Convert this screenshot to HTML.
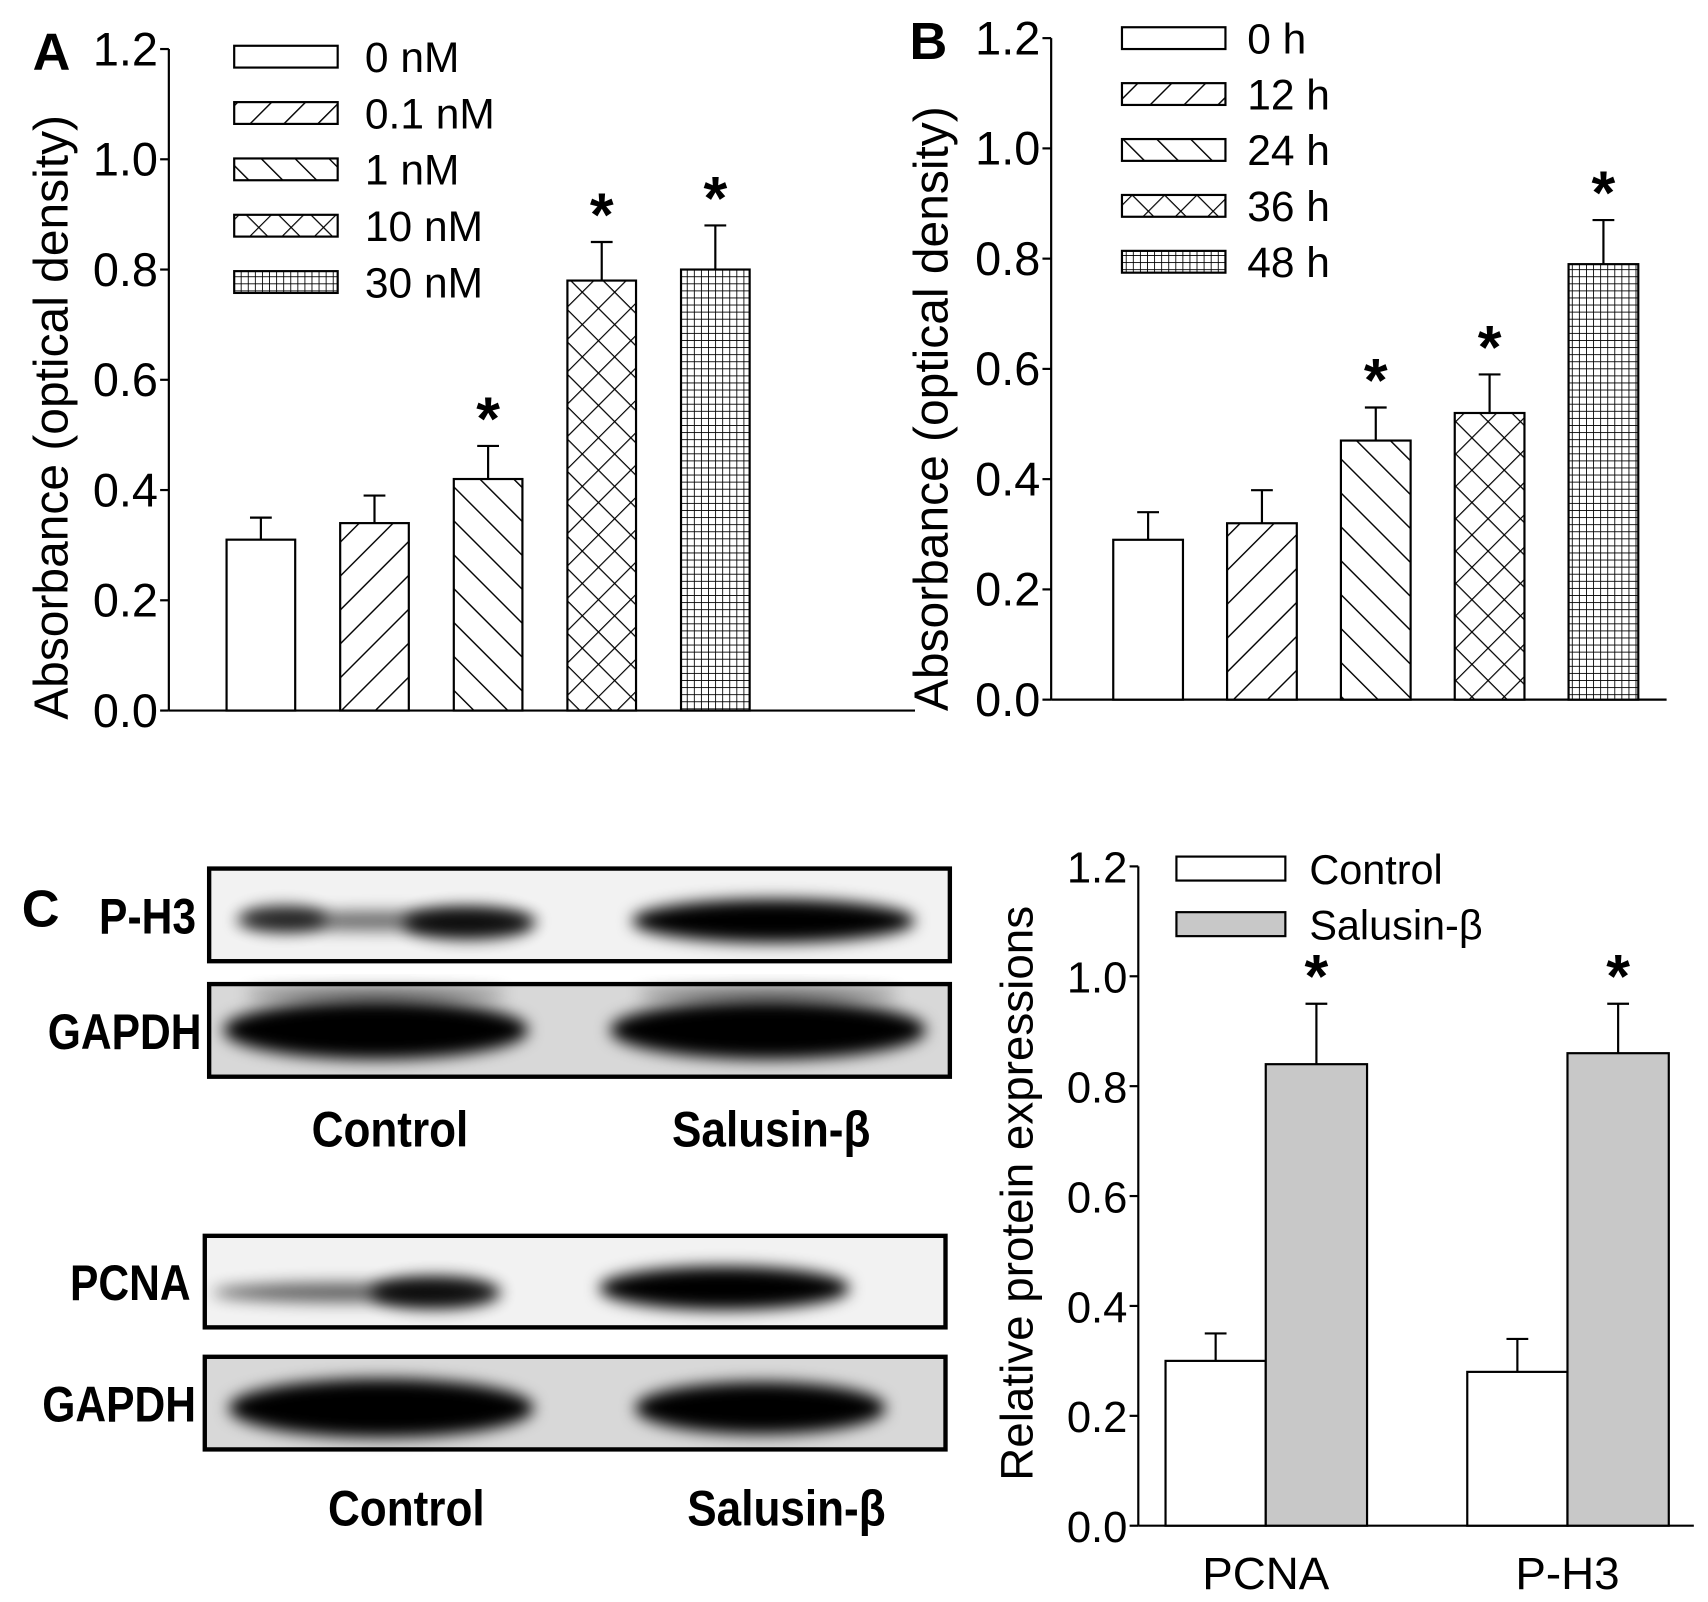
<!DOCTYPE html>
<html><head><meta charset="utf-8"><style>
html,body{margin:0;padding:0;background:#fff}
svg{display:block}
text{font-family:"Liberation Sans",sans-serif;fill:#000}
.cond{font-family:"Liberation Sans Narrow","Liberation Sans",sans-serif;font-weight:bold}
</style></head><body>
<svg id="fig" width="1708" height="1602" viewBox="0 0 1568 1470" preserveAspectRatio="none" xmlns="http://www.w3.org/2000/svg">
<defs>
<pattern id="p-fwd" width="22" height="22" patternUnits="userSpaceOnUse" patternTransform="rotate(45)"><rect width="22" height="22" fill="#fff"/><line x1="0" y1="0" x2="0" y2="22" stroke="#000" stroke-width="2.6"/></pattern>
<pattern id="p-back" width="22" height="22" patternUnits="userSpaceOnUse" patternTransform="rotate(-45)"><rect width="22" height="22" fill="#fff"/><line x1="0" y1="0" x2="0" y2="22" stroke="#000" stroke-width="2.6"/></pattern>
<pattern id="p-cross" width="21" height="21" patternUnits="userSpaceOnUse" patternTransform="rotate(45)"><rect width="21" height="21" fill="#fff"/><line x1="0" y1="0" x2="0" y2="21" stroke="#000" stroke-width="2.2"/><line x1="0" y1="0" x2="21" y2="0" stroke="#000" stroke-width="2.2"/></pattern>
<pattern id="p-grid" width="6.5" height="6.5" patternUnits="userSpaceOnUse"><rect width="6.5" height="6.5" fill="#fff"/><line x1="0" y1="0" x2="0" y2="6.5" stroke="#000" stroke-width="1.6"/><line x1="0" y1="0" x2="6.5" y2="0" stroke="#000" stroke-width="1.6"/></pattern>
<filter id="blur6" x="-20%" y="-100%" width="140%" height="300%"><feGaussianBlur stdDeviation="7"/></filter>
</defs>
<g id="layer"></g>
</svg>
<script>
// Panel A data
const catsA = ["0 nM","0.1 nM","1 nM","10 nM","30 nM"];
const valsA = [0.31,0.34,0.42,0.78,0.80];
const errsA = [0.04,0.05,0.06,0.07,0.08];
const sigA = [false,false,true,true,true];
// Panel B data
const catsB = ["0 h","12 h","24 h","36 h","48 h"];
const valsB = [0.29,0.32,0.47,0.52,0.79];
const errsB = [0.05,0.06,0.06,0.07,0.08];
const sigB = [false,false,true,true,true];
// Panel C data
const groupsC = ["PCNA","P-H3"];
const seriesC = ["Control","Salusin-β"];
const ctrlC = [0.30,0.28];
const salC = [0.84,0.86];
const ctrlErrC = [0.05,0.06];
const salErrC = [0.11,0.09];
const sigSalC = [true,true];
const ticks = ["0.0","0.2","0.4","0.6","0.8","1.0","1.2"];
const tickVals = [0,0.2,0.4,0.6,0.8,1.0,1.2];

const NS="http://www.w3.org/2000/svg";
const L=document.getElementById('layer');
function mk(tag,attrs,parent){const e=document.createElementNS(NS,tag);for(const k in attrs)e.setAttribute(k,attrs[k]);(parent||L).appendChild(e);return e;}
function txt(s,x,y,size,anchor,parent,cls){const t=mk('text',{x:x,y:y,'font-size':size,'text-anchor':anchor||'start'},parent);if(cls)t.setAttribute('class',cls);t.textContent=s;return t;}

function axis(ax,name){
  const g=mk('g',{});
  
  
  mk('line',{x1:ax.x0,y1:ax.y(1.2),x2:ax.x0,y2:ax.y(0),stroke:'#000','stroke-width':2},g);
  mk('line',{x1:ax.x0,y1:ax.y(0),x2:ax.xEnd,y2:ax.y(0),stroke:'#000','stroke-width':2},g);
  tickVals.forEach((v,i)=>{
    mk('line',{x1:ax.x0-8,y1:ax.y(v),x2:ax.x0,y2:ax.y(v),stroke:'#000','stroke-width':2},g);
    const t=txt(ticks[i],ax.x0-10,ax.y(v)+15,ax.fs,'end',g);
    
    
  });
  const tt=mk('text',{x:0,y:0,'font-size':ax.tfs,'text-anchor':'middle',transform:`translate(${ax.titleX},${ax.titleY}) rotate(-90)`},g);
  tt.textContent=ax.title;
  
  
}
function bar(ax,x,w,v,e,fill,sig,name){
  const g=mk('g',{});
  
  
  const cx=x+w/2;
  mk('line',{x1:cx,y1:ax.y(v),x2:cx,y2:ax.y(v+e),stroke:'#000','stroke-width':2},g);
  mk('line',{x1:cx-10,y1:ax.y(v+e),x2:cx+10,y2:ax.y(v+e),stroke:'#000','stroke-width':2},g);
  mk('rect',{x:x,y:ax.y(v),width:w,height:ax.y(0)-ax.y(v),fill:fill,stroke:'#000','stroke-width':2},g);
  if(sig){const s=txt('*',cx,ax.y(v+e)-6,56,'middle',g);s.setAttribute('font-weight','bold');}
}
const fills=['#fff','url(#p-fwd)','url(#p-back)','url(#p-cross)','url(#p-grid)'];

// Panel A
const axA={x0:155,xEnd:840,y:v=>652-v/1.2*(652-45),fs:43,tfs:44,title:'Absorbance (optical density)',titleX:62,titleY:383};
axis(axA,'panel-a');
catsA.forEach((c,i)=>bar(axA,208+i*104.3,63,valsA[i],errsA[i],fills[i],sigA[i],'bar-a-'+i));
catsA.forEach((c,i)=>{const y=52+i*51.7;const g=mk('g',{});
  
  
  mk('rect',{x:215,y:y-10,width:95,height:20,fill:fills[i],stroke:'#000','stroke-width':2},g);txt(c,335,y+14,39,'start',g);});
{const t=txt('A',30,64,48,'start');t.setAttribute('font-weight','bold');}

// Panel B
const axB={x0:965,xEnd:1530,y:v=>642-v/1.2*(642-35),fs:43,tfs:44,title:'Absorbance (optical density)',titleX:870,titleY:375};
axis(axB,'panel-b');
catsB.forEach((c,i)=>bar(axB,1022+i*104.5,64,valsB[i],errsB[i],fills[i],sigB[i],'bar-b-'+i));
catsB.forEach((c,i)=>{const y=35+i*51.3;const g=mk('g',{});
  
  
  mk('rect',{x:1030,y:y-10,width:95,height:20,fill:fills[i],stroke:'#000','stroke-width':2},g);txt(c,1145,y+14,39,'start',g);});
{const t=txt('B',835,54,48,'start');t.setAttribute('font-weight','bold');}

// Panel C chart
const axC={x0:1045,xEnd:1555,y:v=>1400-v/1.2*(1400-795),fs:40,tfs:42,title:'Relative protein expressions',titleX:948,titleY:1095};
axis(axC,'panel-c');
groupsC.forEach((gname,i)=>{
  const x=1070+i*277;
  bar(axC,x,92,ctrlC[i],ctrlErrC[i],'#fff',false,'bar-c-control-'+i);
  bar(axC,x+92,93,salC[i],salErrC[i],'#c8c8c8',sigSalC[i],'bar-c-salusin-'+i);
  const t=txt(gname,x+92,1458,42,'middle');
});
seriesC.forEach((s,i)=>{const y=797+i*51;const g=mk('g',{});
  
  
  mk('rect',{x:1080,y:y-11,width:100,height:22,fill:i?'#c8c8c8':'#fff',stroke:'#000','stroke-width':2},g);txt(s,1202,y+14,38,'start',g);});

// Blots
const blots=[
 {y:797,h:85,x:192,w:680,label:'P-H3',lx:180,bands:[[355,845,140,9,0.55],[260,843,40,12,0.75],[430,847,60,15,0.9],[710,845,130,20,1]]},
 {y:903,h:85,x:192,w:680,label:'GAPDH',lx:185,bands:[[345,945,140,27,1],[705,945,145,27,1],[345,912,120,6,0.5],[705,912,120,6,0.5]]},
 {y:1134,h:84,x:188,w:680,label:'PCNA',lx:175,bands:[[320,1186,125,9,0.6],[400,1186,60,15,0.9],[665,1182,115,20,1]]},
 {y:1245,h:85,x:188,w:680,label:'GAPDH',lx:180,bands:[[350,1292,140,27,1],[698,1292,115,24,1]]}];
blots.forEach((b,i)=>{
  const g=mk('g',{});
  
  
  mk('rect',{x:b.x,y:b.y,width:b.w,height:b.h,fill:i%2?'#d8d8d8':'#f2f2f2'},g);
  b.bands.forEach(bd=>mk('ellipse',{cx:bd[0],cy:bd[1],rx:bd[2],ry:bd[3],fill:'#000',opacity:bd[4],filter:'url(#blur6)'},g));
  mk('rect',{x:b.x,y:b.y,width:b.w,height:b.h,fill:'none',stroke:'#000','stroke-width':4},g);
  const t=txt(b.label,b.lx,b.y+b.h/2+17,46,'end',null,'cond');
  t.setAttribute('transform',`translate(${b.lx},0) scale(0.85,1) translate(${-b.lx},0)`);
  
  
});
{const t=txt('C',20,850,48,'start',null,'cond');}
[[358,1052],[708,1052],[373,1400],[722,1400]].forEach((p,i)=>{
  const t=txt(i%2?'Salusin-β':'Control',p[0],p[1],46,'middle',null,'cond');
  t.setAttribute('transform',`translate(${p[0]},0) scale(0.88,1) translate(${-p[0]},0)`);
  
  
});
</script>
</body></html>
